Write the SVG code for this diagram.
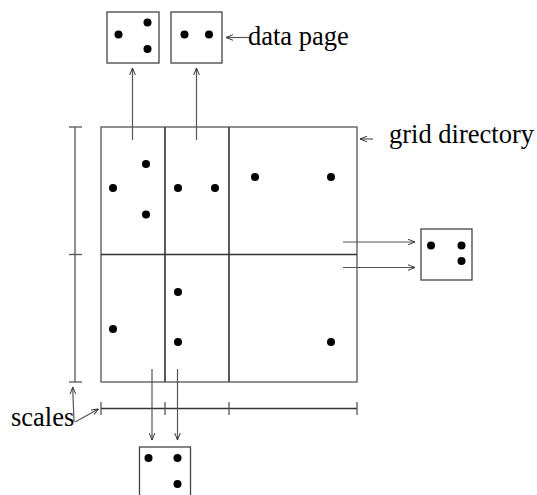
<svg xmlns="http://www.w3.org/2000/svg" width="537" height="495" viewBox="0 0 537 495">
<style>
.ln{stroke:#555;stroke-width:1.3;fill:none}
.dk{stroke:#333;stroke-width:1.6;fill:none}
.box{stroke:#444;stroke-width:1.3;fill:#fff}
.ar{stroke:#555;stroke-width:1.2;fill:none;marker-end:url(#ah)}
.dot{fill:#000}
text{font-family:'Liberation Serif','Times New Roman',Times,serif;font-size:26.5px;fill:#000}
</style>
<defs>
<marker id="ah" viewBox="0 0 10 10" refX="10" refY="5" markerWidth="7" markerHeight="7" markerUnits="userSpaceOnUse" orient="auto">
<path d="M0,1 L10,5 L0,9" fill="none" stroke="#333" stroke-width="1.4"/>
</marker>
</defs>
<rect width="537" height="495" fill="#fff"/>
<g id="grid">
<rect class="ln" x="101" y="127" width="256" height="255"/>
<line class="dk" x1="101" y1="254.5" x2="357" y2="254.5"/>
<line class="dk" x1="165" y1="127" x2="165" y2="382"/>
<line class="dk" x1="229" y1="127" x2="229" y2="382"/>
<circle class="dot" cx="146" cy="164" r="4"/>
<circle class="dot" cx="113" cy="188" r="4"/>
<circle class="dot" cx="146" cy="214.5" r="4"/>
<circle class="dot" cx="178" cy="188" r="4"/>
<circle class="dot" cx="215" cy="188" r="4"/>
<circle class="dot" cx="255" cy="177" r="4"/>
<circle class="dot" cx="331" cy="177" r="4"/>
<circle class="dot" cx="113" cy="329" r="4"/>
<circle class="dot" cx="178" cy="292" r="4"/>
<circle class="dot" cx="178" cy="342" r="4"/>
<circle class="dot" cx="331" cy="342" r="4"/>
</g>
<g id="scale-v">
<line class="ln" x1="75" y1="127" x2="75" y2="382"/>
<line class="ln" x1="69" y1="127" x2="82" y2="127"/>
<line class="ln" x1="69" y1="254.5" x2="82" y2="254.5"/>
<line class="ln" x1="69" y1="382" x2="82" y2="382"/>
</g>
<g id="scale-h">
<line class="dk" x1="101" y1="408.5" x2="357" y2="408.5"/>
<line class="ln" x1="101" y1="402" x2="101" y2="415"/>
<line class="ln" x1="165" y1="402" x2="165" y2="415"/>
<line class="ln" x1="229" y1="402" x2="229" y2="415"/>
<line class="ln" x1="357" y1="402" x2="357" y2="415"/>
</g>
<g id="page1">
<rect class="box" x="107" y="12" width="52" height="51"/>
<circle class="dot" cx="118.5" cy="34.5" r="4"/>
<circle class="dot" cx="147.5" cy="22.5" r="4"/>
<circle class="dot" cx="147.5" cy="49" r="4"/>
</g>
<g id="page2">
<rect class="box" x="171" y="12" width="51" height="51"/>
<circle class="dot" cx="184.5" cy="34.5" r="4"/>
<circle class="dot" cx="209" cy="34.5" r="4"/>
</g>
<g id="page3">
<rect class="box" x="421" y="229" width="51" height="51"/>
<circle class="dot" cx="431" cy="245.5" r="4"/>
<circle class="dot" cx="461.5" cy="245.5" r="4"/>
<circle class="dot" cx="461.5" cy="261" r="4"/>
</g>
<g id="page4">
<rect class="box" x="139.5" y="447" width="51" height="51"/>
<circle class="dot" cx="148.5" cy="458" r="4"/>
<circle class="dot" cx="177.5" cy="458" r="4"/>
<circle class="dot" cx="177.5" cy="484" r="4"/>
</g>
<g id="connectors">
<line class="ar" x1="132.5" y1="140" x2="132.5" y2="68"/>
<line class="ar" x1="196.5" y1="140" x2="196.5" y2="68"/>
<line class="ar" x1="343" y1="242" x2="415" y2="242"/>
<line class="ar" x1="343" y1="267.5" x2="415" y2="267.5"/>
<line class="ar" x1="152" y1="369" x2="152" y2="440"/>
<line class="ar" x1="177.5" y1="369" x2="177.5" y2="440"/>
<line class="ar" x1="249" y1="37.5" x2="226" y2="37.5"/>
<line class="ar" x1="373" y1="139" x2="360" y2="139"/>
<line class="ar" x1="74" y1="422" x2="72.7" y2="387"/>
<line class="ar" x1="75" y1="422" x2="98.5" y2="409"/>
</g>
<g id="labels">
<text x="248" y="45">data page</text>
<text x="389" y="143">grid directory</text>
<text x="11" y="426">scales</text>
</g>
</svg>
